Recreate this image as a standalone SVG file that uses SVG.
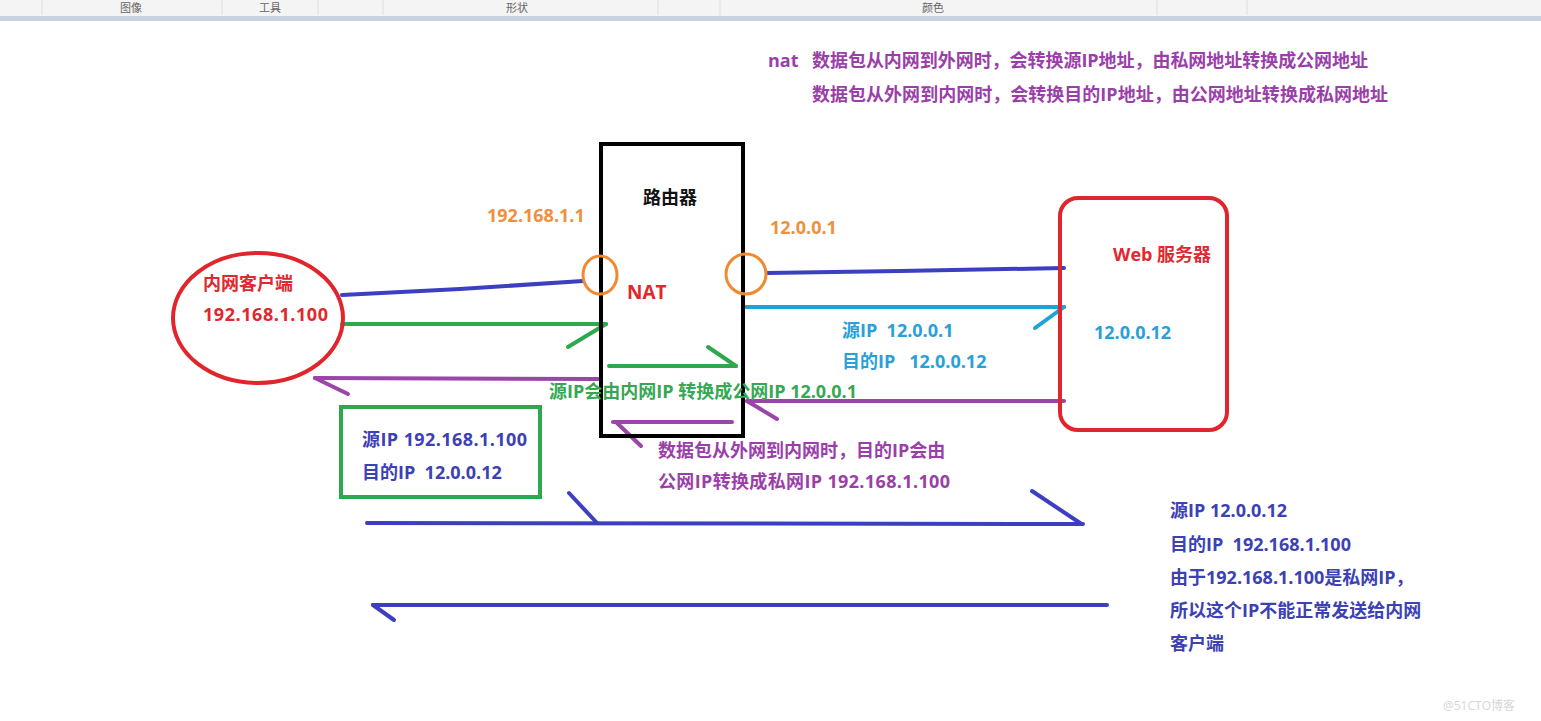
<svg xmlns="http://www.w3.org/2000/svg" width="1541" height="721" viewBox="0 0 1541 721">
  <style>
    text { font-family: "Open Sans", "Noto Sans CJK SC", sans-serif; font-weight: bold; font-size: 18px; }
    .tb { font-family: "Noto Sans CJK SC", sans-serif; font-weight: normal; font-size: 11px; fill: #666; text-anchor: middle; }
    .sep { stroke: #dedede; stroke-width: 1; }
    .ln { fill: none; stroke-width: 4; stroke-linecap: round; stroke-linejoin: round; }
    .blue { stroke: #3c40c0; }
    .green { stroke: #2ea84c; }
    .purple { stroke: #9a45a8; }
    .cyan { stroke: #1ea2dc; }
    .t-purple { fill: #9b3fa8; }
    .t-blue { fill: #3c41b4; }
    .t-green { fill: #36a853; }
    .t-orange { fill: #f08f3c; }
    .t-red { fill: #e0282e; }
    .t-cyan { fill: #2aa0d8; }
  </style>

  <rect x="0" y="0" width="1541" height="721" fill="#ffffff"/>

  <!-- toolbar strip -->
  <g id="toolbar">
    <rect x="0" y="0" width="1541" height="16" fill="#f4f4f4"/>
    <rect x="0" y="16" width="1541" height="5" fill="#cbd1e2"/>
    <line class="sep" x1="42" y1="0" x2="42" y2="15"/>
    <line class="sep" x1="222" y1="0" x2="222" y2="15"/>
    <line class="sep" x1="318" y1="0" x2="318" y2="15"/>
    <line class="sep" x1="383" y1="0" x2="383" y2="15"/>
    <line class="sep" x1="658" y1="0" x2="658" y2="15"/>
    <line class="sep" x1="720" y1="0" x2="720" y2="15"/>
    <line class="sep" x1="1157" y1="0" x2="1157" y2="15"/>
    <line class="sep" x1="1247" y1="0" x2="1247" y2="15"/>
    <text class="tb" x="131" y="12">图像</text>
    <text class="tb" x="270" y="12">工具</text>
    <text class="tb" x="517" y="12">形状</text>
    <text class="tb" x="933" y="12">颜色</text>
  </g>

  <!-- NAT explanation -->
  <g id="nat-note">
    <text class="t-purple" x="768" y="67">nat</text>
    <text class="t-purple" x="812" y="67" textLength="556">数据包从内网到外网时，会转换源IP地址，由私网地址转换成公网地址</text>
    <text class="t-purple" x="812" y="101" textLength="576">数据包从外网到内网时，会转换目的IP地址，由公网地址转换成私网地址</text>
  </g>

  <!-- connectors -->
  <g id="connectors">
    <!-- client to router LAN port -->
    <polyline class="ln blue" points="342,295 460,289 583,281"/>
    <!-- router WAN port to server -->
    <polyline class="ln blue" points="767,273 900,271 1064,268"/>
    <!-- outgoing request: client -> router -->
    <line class="ln green" x1="342" y1="324" x2="606" y2="324"/>
    <line class="ln green" x1="568" y1="347" x2="606" y2="324"/>
    <!-- translation inside router -->
    <line class="ln green" x1="609" y1="366" x2="736" y2="366"/>
    <line class="ln green" x1="708" y1="347" x2="736" y2="366"/>
    <!-- translated request: router -> server -->
    <line class="ln cyan" x1="745" y1="307" x2="1064" y2="307"/>
    <line class="ln cyan" x1="1035" y1="328" x2="1064" y2="307"/>
    <!-- reply: server -> router -->
    <line class="ln purple" x1="747" y1="401" x2="1064" y2="401"/>
    <line class="ln purple" x1="747" y1="401" x2="777" y2="419"/>
    <!-- reverse translation inside router -->
    <line class="ln purple" x1="613" y1="422" x2="732" y2="422"/>
    <line class="ln purple" x1="617" y1="423" x2="641" y2="446"/>
    <!-- reply: router -> client -->
    <line class="ln purple" x1="315" y1="378" x2="598" y2="379"/>
    <line class="ln purple" x1="315" y1="378" x2="348" y2="394"/>
    <!-- untranslated reply path -->
    <line class="ln blue" x1="367" y1="523" x2="1083" y2="524"/>
    <line class="ln blue" x1="569" y1="493" x2="597" y2="523"/>
    <line class="ln blue" x1="1032" y1="491" x2="1080" y2="523"/>
    <line class="ln blue" x1="373" y1="605" x2="1107" y2="605"/>
    <line class="ln blue" x1="373" y1="605" x2="394" y2="620"/>
  </g>

  <!-- intranet client -->
  <g id="client">
    <ellipse cx="258" cy="318" rx="85" ry="65" fill="none" stroke="#e0262c" stroke-width="4"/>
    <text class="t-red" x="203" y="290">内网客户端</text>
    <text class="t-red" x="203" y="321" textLength="125">192.168.1.100</text>
  </g>

  <!-- router -->
  <g id="router">
    <rect x="601" y="144" width="142" height="292" fill="none" stroke="#000" stroke-width="4"/>
    <text x="643" y="204" fill="#111">路由器</text>
    <ellipse cx="600" cy="275" rx="17" ry="19" fill="none" stroke="#f08a30" stroke-width="3"/>
    <ellipse cx="746" cy="274" rx="20" ry="20" fill="none" stroke="#f08a30" stroke-width="3"/>
    <text class="t-orange" x="487" y="222">192.168.1.1</text>
    <text class="t-orange" x="770" y="234">12.0.0.1</text>
    <text class="t-red" x="627" y="299" style="font-size:19px">NAT</text>
  </g>

  <!-- web server -->
  <g id="server">
    <rect x="1060" y="198" width="167" height="232" rx="18" fill="none" stroke="#e0262c" stroke-width="4"/>
    <text class="t-red" x="1113" y="261">Web 服务器</text>
    <text class="t-cyan" x="1094" y="339">12.0.0.12</text>
  </g>

  <!-- outgoing packet header -->
  <g id="request-header">
    <rect x="341" y="407" width="199" height="90" fill="none" stroke="#2ea84c" stroke-width="4"/>
    <text class="t-blue" x="362" y="446" textLength="165">源IP 192.168.1.100</text>
    <text class="t-blue" x="362" y="479" xml:space="preserve">目的IP  12.0.0.12</text>
  </g>

  <!-- translated packet header -->
  <g id="translated-header">
    <text class="t-cyan" x="842" y="337" xml:space="preserve">源IP  12.0.0.1</text>
    <text class="t-cyan" x="842" y="368" xml:space="preserve">目的IP   12.0.0.12</text>
  </g>

  <!-- translation notes -->
  <g id="snat-note">
    <text class="t-green" x="549" y="398">源IP会由内网IP 转换成公网IP 12.0.0.1</text>
  </g>
  <g id="dnat-note">
    <text class="t-purple" x="658" y="457">数据包从外网到内网时，目的IP会由</text>
    <text class="t-purple" x="658" y="488" textLength="292">公网IP转换成私网IP 192.168.1.100</text>
  </g>

  <!-- reply without translation -->
  <g id="reply-note">
    <text class="t-blue" x="1170" y="517">源IP 12.0.0.12</text>
    <text class="t-blue" x="1170" y="551" xml:space="preserve">目的IP  192.168.1.100</text>
    <text class="t-blue" x="1170" y="584">由于192.168.1.100是私网IP，</text>
    <text class="t-blue" x="1170" y="617">所以这个IP不能正常发送给内网</text>
    <text class="t-blue" x="1170" y="650">客户端</text>
  </g>

  <text x="1443" y="710" style="font-size:12px;font-weight:normal;fill:#d6d6d6">@51CTO博客</text>
</svg>
